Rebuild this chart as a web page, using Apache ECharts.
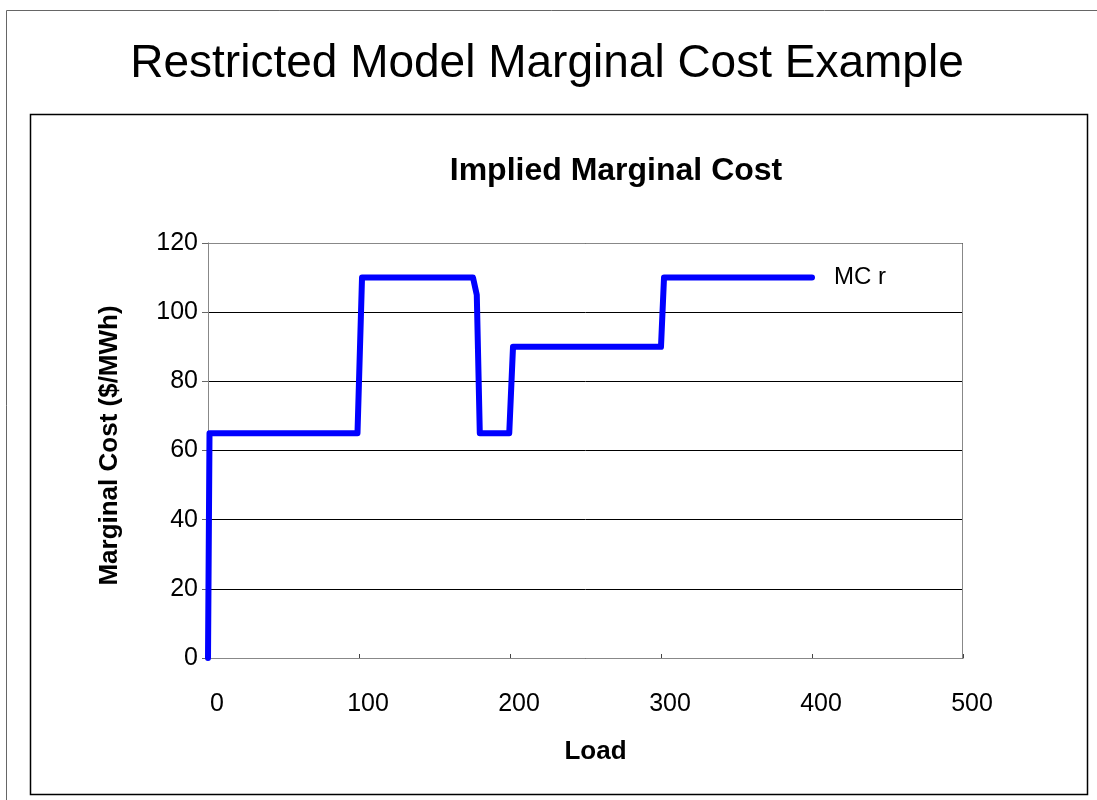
<!DOCTYPE html>
<html>
<head>
<meta charset="utf-8">
<script src="https://cdn.jsdelivr.net/npm/echarts@6/dist/echarts.min.js"></script>
<style>
  html, body { margin: 0; padding: 0; background: #fff; }
  #main { width: 1097px; height: 800px; }
</style>
</head>
<body>
<div id="main"></div>
<script>
// load (x) and marginal cost (y)
var loads = [0, 1, 99, 102, 175.5, 178, 180, 199.5, 202, 300, 302, 400];
var costs = [0, 65, 65, 110, 110, 105, 65, 65, 90, 90, 110, 110];
var seriesName = "MC r";

var chart = echarts.init(document.getElementById("main"));

var points = loads.map(function (x, i) { return [x, costs[i]]; });

var font = "Liberation Sans, Arial, sans-serif";

var option = {
  backgroundColor: "#fff",
  animation: false,
  textStyle: { fontFamily: font },
  title: [
    {
      text: "Restricted Model Marginal Cost Example",
      left: 542,
      textAlign: "center",
      top: 36,
      textStyle: { fontSize: 46, fontWeight: "normal", color: "#000", fontFamily: font }
    },
    {
      text: "Implied Marginal Cost",
      left: 611,
      textAlign: "center",
      top: 150,
      textStyle: { fontSize: 32, fontWeight: "bold", color: "#000", fontFamily: font }
    }
  ],
  graphic: [
    // slide frame (top and left edges visible)
    { type: "polyline", shape: { points: [[6.5, 800], [6.5, 10.5], [1097, 10.5]] },
      style: { stroke: "#666", lineWidth: 1, fill: null } },
    // chart box
    { type: "rect", shape: { x: 30.5, y: 114.5, width: 1057, height: 680 },
      style: { stroke: "#000", lineWidth: 1.5, fill: null } },
    // plot area border
    { type: "rect", shape: { x: 208.5, y: 243.5, width: 754, height: 415 },
      style: { stroke: "#888", lineWidth: 1, fill: null }, z: 1 }
  ],
  grid: {
    left: 208,
    top: 243,
    right: 134,
    bottom: 142
  },
  xAxis: {
    type: "value",
    min: 0,
    max: 500,
    interval: 100,
    name: "Load",
    nameLocation: "middle",
    nameGap: 81,
    nameTextStyle: { fontSize: 26, fontWeight: "bold", color: "#000", padding: [0, 0, 0, 20] },
    axisLine: { show: true, lineStyle: { color: "#444", width: 1 } },
    axisTick: { show: true, inside: true, length: 4, lineStyle: { color: "#444" } },
    axisLabel: { fontSize: 25, color: "#000", margin: 34, padding: [0, 0, 0, 18] },
    splitLine: { show: false }
  },
  yAxis: {
    type: "value",
    min: 0,
    max: 120,
    interval: 20,
    name: "Marginal Cost ($/MWh)",
    nameLocation: "middle",
    nameGap: 85,
    nameRotate: 90,
    nameTextStyle: { fontSize: 26, fontWeight: "bold", color: "#000", padding: [0, 0, 0, 10] },
    axisLine: { show: true, lineStyle: { color: "#666", width: 1 } },
    axisTick: { show: true, inside: false, length: 6, lineStyle: { color: "#666" } },
    axisLabel: { fontSize: 25, color: "#000", margin: 10 },
    splitLine: { show: true, lineStyle: { color: "#000", width: 1 } }
  },
  series: [
    {
      name: seriesName,
      type: "line",
      data: points,
      showSymbol: false,
      lineStyle: { color: "#0000ff", width: 6, cap: "round", join: "round" },
      itemStyle: { color: "#0000ff" },
      endLabel: {
        show: true,
        formatter: "{a}",
        distance: 22,
        fontSize: 24,
        color: "#000",
        fontFamily: font
      },
      z: 3
    }
  ]
};

chart.setOption(option);
</script>
</body>
</html>
